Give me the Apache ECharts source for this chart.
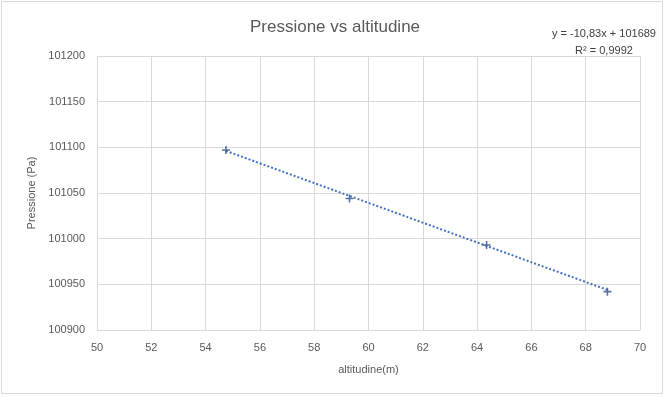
<!DOCTYPE html>
<html><head><meta charset="utf-8">
<script src="https://cdn.jsdelivr.net/npm/echarts@6/dist/echarts.min.js"></script>
<style>html,body{margin:0;padding:0;background:#fff}#c{width:670px;height:400px}</style>
</head><body><div id="c"></div>
<script>
const altitudes = [54.75, 59.3, 64.35, 68.8];
const pressures = [101097, 101044, 100993, 100942];
const trendSlope = -10.83;
const trendIntercept = 101689;
const xTicks = [50, 52, 54, 56, 58, 60, 62, 64, 66, 68, 70];
const yTicks = [100900, 100950, 101000, 101050, 101100, 101150, 101200];
const titleText = 'Pressione vs altitudine';
const eqLines = ['y = -10,83x + 101689', 'R² = 0,9992'];

const points = altitudes.map((x, i) => [x, pressures[i]]);
const xMin = Math.min(...altitudes), xMax = Math.max(...altitudes);
const trend = [[xMin, trendSlope * xMin + trendIntercept], [xMax, trendSlope * xMax + trendIntercept]];
const FONT = 'Liberation Sans';
const plus = 'path://M4,0 L6,0 L6,4 L10,4 L10,6 L6,6 L6,10 L4,10 L4,6 L0,6 L0,4 L4,4 Z';

const chart = echarts.init(document.getElementById('c'));
chart.setOption({
  animation: false,
  textStyle: { fontFamily: FONT },
  graphic: [
    { type: 'rect', shape: { x: 1.5, y: 1.5, width: 661, height: 392 }, style: { fill: 'none', stroke: '#D9D9D9', lineWidth: 1 } },
    { type: 'text', x: 604, y: 25, style: { text: eqLines.join('\n'), fill: '#404040', font: '11px ' + FONT, align: 'center', lineHeight: 17 } }
  ],
  title: {
    text: titleText, left: 'center', top: 14,
    textStyle: { fontFamily: FONT, fontSize: 17, fontWeight: 'normal', color: '#595959' }
  },
  grid: { left: 97, right: 30, top: 56, bottom: 70 },
  xAxis: {
    type: 'value', min: xTicks[0], max: xTicks[xTicks.length - 1], interval: 2,
    name: 'altitudine(m)', nameLocation: 'middle', nameGap: 34,
    nameTextStyle: { fontSize: 11, color: '#595959' },
    axisLine: { show: true, lineStyle: { color: '#D9D9D9' } },
    axisTick: { show: false },
    axisLabel: { fontSize: 11, color: '#595959', margin: 12 },
    splitLine: { show: true, lineStyle: { color: '#D9D9D9' } }
  },
  yAxis: {
    type: 'value', min: yTicks[0], max: yTicks[yTicks.length - 1], interval: 50,
    name: 'Pressione (Pa)', nameLocation: 'middle', nameGap: 56, nameRotate: 90,
    nameTextStyle: { fontSize: 11, color: '#595959' },
    axisLine: { show: true, lineStyle: { color: '#D9D9D9' } },
    axisTick: { show: false },
    axisLabel: { fontSize: 11, color: '#595959', margin: 12, formatter: v => String(v) },
    splitLine: { show: true, lineStyle: { color: '#D9D9D9' } }
  },
  series: [
    {
      type: 'line', data: trend, symbol: 'none', silent: true,
      lineStyle: { color: '#4472C4', width: 2, type: [2, 2] }, z: 2
    },
    {
      type: 'scatter', data: points, symbol: plus, symbolSize: 8,
      itemStyle: { color: '#2F4F8F' }, z: 3
    }
  ]
});
</script></body></html>
